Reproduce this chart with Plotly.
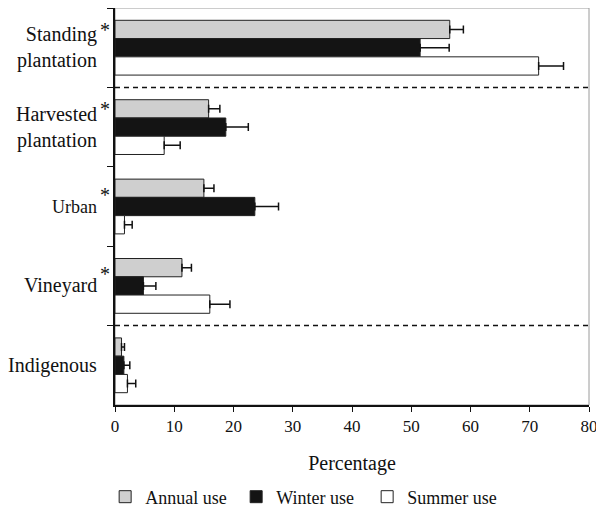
import plotly.graph_objects as go

categories = ["Standing plantation", "Harvested plantation", "Urban", "Vineyard", "Indigenous"]
annual = [56.5, 15.8, 15.0, 11.3, 1.1]
annual_err = [2.3, 1.9, 1.7, 1.6, 0.5]
winter = [51.5, 18.7, 23.6, 4.8, 1.5]
winter_err = [4.9, 3.8, 4.0, 2.1, 1.0]
summer = [71.5, 8.3, 1.6, 16.0, 2.1]
summer_err = [4.2, 2.7, 1.3, 3.4, 1.4]
x_ticks = [0, 10, 20, 30, 40, 50, 60, 70, 80]

label_lines = [["Standing", "plantation"], ["Harvested", "plantation"], ["Urban"], ["Vineyard"], ["Indigenous"]]
significant = [True, True, True, True, False]

FONT = "Liberation Serif"

fig = go.Figure()
series = [
    ("Annual use", annual, annual_err, "#cfcfcf"),
    ("Winter use", winter, winter_err, "#141414"),
    ("Summer use", summer, summer_err, "#ffffff"),
]
for name, vals, errs, color in series:
    fig.add_trace(go.Bar(
        name=name, y=categories, x=vals, orientation="h",
        marker=dict(color=color, line=dict(color="#222222", width=1)),
        error_x=dict(type="data", array=errs, arrayminus=[0] * len(errs),
                     symmetric=False, visible=True, color="#111111",
                     thickness=1.5, width=4),
    ))

shapes = [
    dict(type="rect", xref="paper", yref="paper", x0=0, x1=1, y0=0, y1=1,
         line=dict(color="#9a9a9a", width=1), layer="below"),
]
for b in [0.5, 3.5]:
    shapes.append(dict(type="line", xref="paper", yref="y", x0=0, x1=1, y0=b, y1=b,
                       line=dict(color="#111111", width=1.5, dash="5px,4px")))

annotations = []
for i, cat in enumerate(categories):
    size = 18 if cat == "Urban" else 20
    annotations.append(dict(
        xref="paper", yref="y", x=0, y=cat, xshift=-16, xanchor="right", yanchor="middle",
        text="<br>".join(label_lines[i]), align="right", showarrow=False,
        font=dict(family=FONT, size=size, color="#111111")))
    if significant[i]:
        annotations.append(dict(
            xref="paper", yref="y", x=0, y=cat, xshift=-10,
            yshift=(18 if len(label_lines[i]) > 1 else 12),
            xanchor="center", yanchor="middle", text="*", showarrow=False,
            font=dict(family=FONT, size=20, color="#111111")))

fig.update_layout(
    width=596, height=501,
    margin=dict(l=107, r=15, t=0, b=104),
    paper_bgcolor="white", plot_bgcolor="white",
    barmode="group", bargap=0.31, bargroupgap=0,
    font=dict(family=FONT, size=17, color="#111111"),
    showlegend=True,
    legend=dict(orientation="h", xref="container", x=0.163, xanchor="left",
                yref="container", y=0.024, yanchor="middle",
                font=dict(family=FONT, size=18, color="#111111"),
                traceorder="normal", entrywidth=86, entrywidthmode="pixels"),
    shapes=shapes, annotations=annotations,
    xaxis=dict(range=[0, 80], tickvals=x_ticks, ticks="outside", ticklen=5,
               tickcolor="#111111", showline=True, linecolor="#111111", linewidth=1.5,
               showgrid=False, zeroline=False,
               tickfont=dict(family=FONT, size=17, color="#111111"),
               title=dict(text="Percentage", standoff=21,
                          font=dict(family=FONT, size=20, color="#111111"))),
    yaxis=dict(autorange="reversed", showticklabels=False, ticks="outside", ticklen=6,
               tickson="boundaries", tickcolor="#111111", automargin=False,
               showline=True, linecolor="#111111", linewidth=1.5,
               showgrid=False, zeroline=False),
)

fig.write_html("out.html")
